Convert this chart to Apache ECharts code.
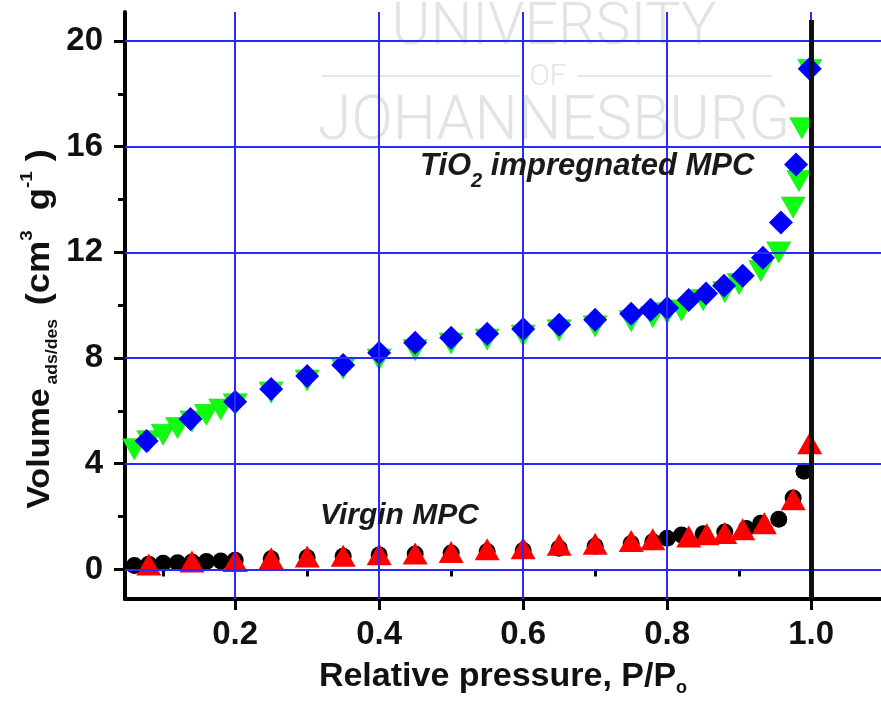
<!DOCTYPE html>
<html><head><meta charset="utf-8">
<script src="https://cdn.jsdelivr.net/npm/echarts@6/dist/echarts.min.js"></script>
<style>html,body{margin:0;padding:0;background:#fff}#c{width:881px;height:702px}</style>
</head><body><div id="c"></div>
<script>
// ---- axis ticks / grid values ----
const xTicks = [0.2, 0.4, 0.6, 0.8, 1.0];
const xMinorTicks = [0.1, 0.3, 0.5, 0.7, 0.9];
const yTicks = [0, 4, 8, 12, 16, 20];
const yMinorTicks = [2, 6, 10, 14, 18];
const xGridLines = [0.2, 0.4, 0.6, 0.8, 1.0];
const yGridLines = [0, 4, 8, 12, 16, 20];
const boundaryX = 1.0;

// ---- TiO2 impregnated MPC (green down-triangles) ----
const tio2GreenX = [0.06,0.08,0.10,0.12,0.14,0.16,0.18,0.20,0.25,0.30,0.35,0.40,0.45,0.50,0.55,0.60,0.65,0.70,0.75,0.78,0.80,0.82,0.85,0.88,0.90,0.93,0.955,0.975,0.983,0.987,0.998];
const tio2GreenY = [4.55,4.85,5.10,5.35,5.60,5.85,6.05,6.25,6.70,7.15,7.60,7.95,8.30,8.55,8.70,8.85,9.05,9.20,9.40,9.55,9.70,9.80,10.20,10.50,10.80,11.30,12.00,13.70,14.70,16.70,18.90];
// ---- TiO2 impregnated MPC (blue diamonds) ----
const tio2BlueX = [0.077,0.138,0.20,0.25,0.30,0.35,0.40,0.45,0.50,0.55,0.60,0.65,0.70,0.75,0.777,0.80,0.83,0.854,0.879,0.905,0.933,0.958,0.979,0.998];
const tio2BlueY = [4.86,5.69,6.35,6.83,7.32,7.74,8.20,8.58,8.77,8.92,9.10,9.26,9.45,9.68,9.83,9.90,10.20,10.44,10.74,11.12,11.80,13.13,15.33,18.95];
// ---- Virgin MPC (black circles) ----
const virginBlackX = [0.06,0.08,0.10,0.12,0.14,0.16,0.18,0.20,0.25,0.30,0.35,0.40,0.45,0.50,0.55,0.60,0.65,0.70,0.75,0.78,0.80,0.82,0.85,0.88,0.91,0.93,0.955,0.975,0.99];
const virginBlackY = [0.15,0.20,0.23,0.25,0.28,0.30,0.32,0.35,0.40,0.45,0.50,0.55,0.58,0.62,0.68,0.72,0.80,0.88,0.98,1.05,1.18,1.30,1.35,1.42,1.55,1.75,1.90,2.70,3.72];
// ---- Virgin MPC (red triangles) ----
const virginRedX = [0.08,0.14,0.20,0.25,0.30,0.35,0.40,0.45,0.50,0.55,0.60,0.65,0.70,0.75,0.78,0.83,0.855,0.88,0.905,0.935,0.975,0.998];
const virginRedY = [0.19,0.30,0.32,0.42,0.49,0.52,0.57,0.60,0.66,0.76,0.80,0.93,0.97,1.08,1.14,1.25,1.33,1.38,1.52,1.75,2.66,4.78];

const pair = (xs, ys) => xs.map((x, i) => [x, ys[i]]);
const FONT = '"Liberation Sans", Arial, sans-serif';
const X_MIN = 0.047, X_MAX = 1.097, Y_MIN = -1.12, Y_MAX = 21.1;
const gridBlue = '#2a2aff';
const WM = '300 {S}px Roboto, "DejaVu Sans", sans-serif';

const chart = echarts.init(document.getElementById('c'), null, {renderer: 'canvas'});

const axisBase = {
  axisLine: {show: false}, splitLine: {show: false}, axisLabel: {show: false}, axisTick: {show: false}
};

chart.setOption({
  animation: false,
  backgroundColor: '#fff',
  grid: {left: 125, right: 0, top: 12, bottom: 103, containLabel: false},
  xAxis: [
    {
      type: 'value', min: X_MIN, max: X_MAX,
      axisLine: {show: true, onZero: false, lineStyle: {color: '#000', width: 4}},
      axisTick: {show: true, inside: false, length: 11, customValues: xTicks, lineStyle: {color: '#000', width: 3}},
      axisLabel: {show: true, customValues: xTicks, margin: 19, formatter: v => v.toFixed(1),
        fontFamily: FONT, fontWeight: 'bold', fontSize: 33, color: '#111'},
      splitLine: {show: false},
      name: 'Relative pressure, P/P{s|o}', nameLocation: 'middle', nameGap: 58,
      nameTextStyle: {fontFamily: FONT, fontWeight: 'bold', fontSize: 34, color: '#111', lineHeight: 40,
        rich: {s: {fontFamily: FONT, fontWeight: 'bold', fontSize: 18, lineHeight: 18, verticalAlign: 'bottom', color: '#111'}}}
    },
    Object.assign({type: 'value', min: X_MIN, max: X_MAX, position: 'bottom'}, axisBase, {
      axisTick: {show: true, inside: false, length: 7, customValues: xMinorTicks, lineStyle: {color: '#000', width: 3}}
    })
  ],
  yAxis: [
    {
      type: 'value', min: Y_MIN, max: Y_MAX,
      axisLine: {show: true, onZero: false, lineStyle: {color: '#000', width: 4}},
      axisTick: {show: true, inside: false, length: 11, customValues: yTicks, lineStyle: {color: '#000', width: 3}},
      axisLabel: {show: true, customValues: yTicks, margin: 22,
        fontFamily: FONT, fontWeight: 'bold', fontSize: 33, color: '#111'},
      splitLine: {show: false}
    },
    Object.assign({type: 'value', min: Y_MIN, max: Y_MAX, position: 'left'}, axisBase, {
      axisTick: {show: true, inside: false, length: 7, customValues: yMinorTicks, lineStyle: {color: '#000', width: 3}}
    })
  ],
  graphic: [
    // watermark
    {type: 'text', x: 554, y: 29, z: 0, silent: true, style: {text: 'UNIVERSITY', font: WM.replace('{S}', 59), fill: '#e3e3e3', align: 'center', verticalAlign: 'middle'}},
    {type: 'text', x: 548, y: 77, z: 0, silent: true, style: {text: 'OF', font: WM.replace('{S}', 30), fill: '#e3e3e3', align: 'center', verticalAlign: 'middle'}},
    {type: 'line', z: 0, silent: true, shape: {x1: 322, y1: 76, x2: 520, y2: 76}, style: {stroke: '#e6e6e6', lineWidth: 2}},
    {type: 'line', z: 0, silent: true, shape: {x1: 577, y1: 76, x2: 772, y2: 76}, style: {stroke: '#e6e6e6', lineWidth: 2}},
    {type: 'text', x: 554, y: 124, z: 0, silent: true, style: {text: 'JOHANNESBURG', font: WM.replace('{S}', 61), fill: '#e3e3e3', align: 'center', verticalAlign: 'middle'}},
    // y-axis title
    {type: 'text', x: 40, y: 329, rotation: Math.PI / 2, scaleX: 1.1, z: 50, silent: true, style: {
      text: '{a|Volume}{sp| }{b|ads/des}{sp| }{p| (cm}{c|3}{p|  g}{c|-1}{p| )}', align: 'center', verticalAlign: 'middle',
      rich: {
        a: {font: 'bold 31px ' + FONT, fill: '#111', lineHeight: 42},
        p: {font: 'bold 33px ' + FONT, fill: '#111', lineHeight: 42},
        sp: {font: 'bold 12px ' + FONT, fill: '#111', lineHeight: 12},
        b: {font: 'bold 16px ' + FONT, fill: '#111', lineHeight: 16, verticalAlign: 'bottom'},
        c: {font: 'bold 17px ' + FONT, fill: '#111', lineHeight: 17, verticalAlign: 'top'}
      }}},
    // annotations
    {type: 'text', x: 420, y: 166, z: 50, silent: true, style: {
      text: '{i|TiO}{s|2}{i| impregnated MPC}', align: 'left', verticalAlign: 'middle',
      rich: {
        i: {font: 'italic bold 31px ' + FONT, fill: '#1a1a1a', lineHeight: 50},
        s: {font: 'italic bold 20px ' + FONT, fill: '#1a1a1a', lineHeight: 20, verticalAlign: 'bottom'}
      }}},
    {type: 'text', x: 320, y: 516, z: 50, silent: true, style: {
      text: 'Virgin MPC', align: 'left', verticalAlign: 'middle',
      font: 'italic bold 30px ' + FONT, fill: '#1a1a1a'}}
  ],
  series: [
    {
      type: 'scatter', data: [], z: 1, silent: true,
      markLine: {
        silent: true, symbol: 'none', animation: false, label: {show: false},
        lineStyle: {color: gridBlue, width: 2, type: 'solid'},
        data: xGridLines.map(v => ({xAxis: v})).concat(yGridLines.map(v => ({yAxis: v})))
      }
    },
    {
      type: 'scatter', data: [], z: 1.5, silent: true,
      markLine: {
        silent: true, symbol: 'none', animation: false, label: {show: false},
        lineStyle: {color: '#111', width: 5, type: 'solid'},
        data: [[{coord: [boundaryX, Y_MIN]}, {coord: [boundaryX, 20.8]}]]
      }
    },
    {name: 'TiO2 green', type: 'scatter', z: 3, data: pair(tio2GreenX, tio2GreenY),
      symbol: 'triangle', symbolRotate: 180, symbolSize: [24, 21],
      itemStyle: {color: '#10ff10', borderColor: '#22cc22', borderWidth: 0.6, opacity: 1}},
    {name: 'TiO2 blue', type: 'scatter', z: 4, data: pair(tio2BlueX, tio2BlueY),
      symbol: 'diamond', symbolSize: 24,
      itemStyle: {color: '#0000ff', opacity: 1}},
    {name: 'Virgin black', type: 'scatter', z: 3, data: pair(virginBlackX, virginBlackY),
      symbol: 'circle', symbolSize: 17,
      itemStyle: {color: '#000000', opacity: 1}},
    {name: 'Virgin red', type: 'scatter', z: 4, data: pair(virginRedX, virginRedY),
      symbol: 'triangle', symbolSize: [25, 22],
      itemStyle: {color: '#ff0000', opacity: 1}}
  ]
});
</script>
</body></html>
